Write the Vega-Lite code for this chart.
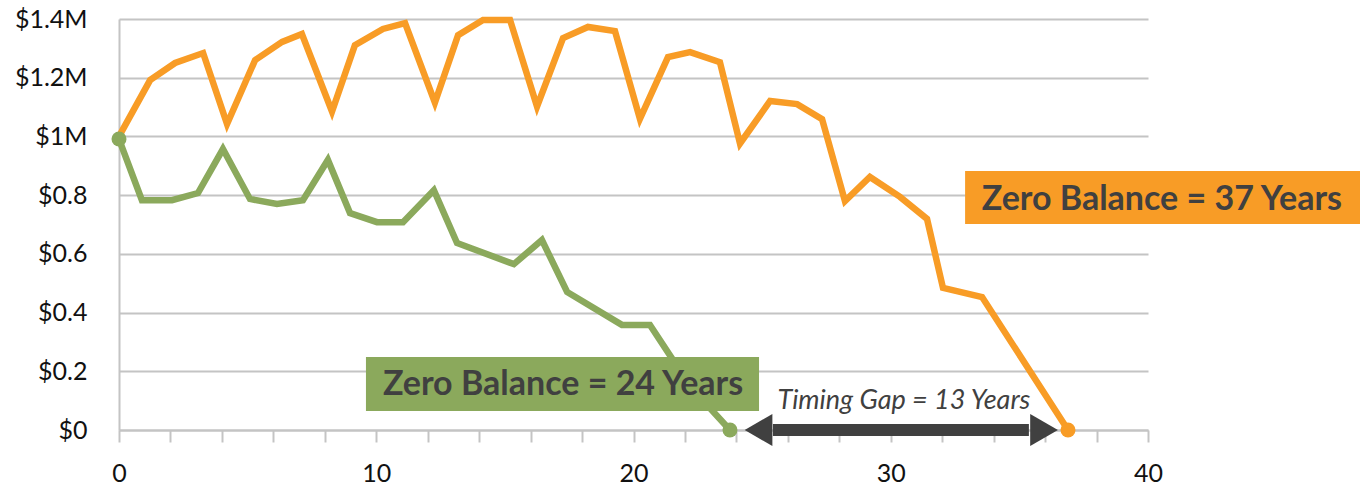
{
  "$schema": "https://vega.github.io/schema/vega-lite/v6.json",
  "autosize": {"type": "none"},
  "padding": {"left": 119, "top": 19, "right": 212, "bottom": 59},
  "width": 1029,
  "height": 411,
  "config": {"view": {"stroke": null}, "font": "Lato"},
  "datasets": {
    "balances": [
      {"year": 0, "balance": 1.0, "series": "37 years"},
      {"year": 1.21, "balance": 1.192, "series": "37 years"},
      {"year": 2.18, "balance": 1.25, "series": "37 years"},
      {"year": 3.27, "balance": 1.284, "series": "37 years"},
      {"year": 4.2, "balance": 1.042, "series": "37 years"},
      {"year": 5.29, "balance": 1.26, "series": "37 years"},
      {"year": 6.34, "balance": 1.322, "series": "37 years"},
      {"year": 7.11, "balance": 1.349, "series": "37 years"},
      {"year": 8.28, "balance": 1.085, "series": "37 years"},
      {"year": 9.17, "balance": 1.311, "series": "37 years"},
      {"year": 10.26, "balance": 1.366, "series": "37 years"},
      {"year": 11.12, "balance": 1.386, "series": "37 years"},
      {"year": 12.28, "balance": 1.115, "series": "37 years"},
      {"year": 13.18, "balance": 1.345, "series": "37 years"},
      {"year": 14.15, "balance": 1.397, "series": "37 years"},
      {"year": 15.2, "balance": 1.397, "series": "37 years"},
      {"year": 16.25, "balance": 1.102, "series": "37 years"},
      {"year": 17.26, "balance": 1.335, "series": "37 years"},
      {"year": 18.23, "balance": 1.373, "series": "37 years"},
      {"year": 19.28, "balance": 1.359, "series": "37 years"},
      {"year": 20.25, "balance": 1.06, "series": "37 years"},
      {"year": 21.34, "balance": 1.27, "series": "37 years"},
      {"year": 22.2, "balance": 1.287, "series": "37 years"},
      {"year": 23.36, "balance": 1.253, "series": "37 years"},
      {"year": 24.14, "balance": 0.976, "series": "37 years"},
      {"year": 25.31, "balance": 1.121, "series": "37 years"},
      {"year": 26.36, "balance": 1.11, "series": "37 years"},
      {"year": 27.33, "balance": 1.059, "series": "37 years"},
      {"year": 28.22, "balance": 0.78, "series": "37 years"},
      {"year": 29.19, "balance": 0.862, "series": "37 years"},
      {"year": 30.36, "balance": 0.794, "series": "37 years"},
      {"year": 31.41, "balance": 0.719, "series": "37 years"},
      {"year": 32.03, "balance": 0.484, "series": "37 years"},
      {"year": 33.55, "balance": 0.453, "series": "37 years"},
      {"year": 36.89, "balance": 0, "series": "37 years"},
      {"year": 0, "balance": 0.991, "series": "24 years"},
      {"year": 0.89, "balance": 0.783, "series": "24 years"},
      {"year": 2.06, "balance": 0.783, "series": "24 years"},
      {"year": 3.07, "balance": 0.807, "series": "24 years"},
      {"year": 4.04, "balance": 0.957, "series": "24 years"},
      {"year": 5.09, "balance": 0.787, "series": "24 years"},
      {"year": 6.14, "balance": 0.77, "series": "24 years"},
      {"year": 7.15, "balance": 0.783, "series": "24 years"},
      {"year": 8.12, "balance": 0.92, "series": "24 years"},
      {"year": 8.98, "balance": 0.739, "series": "24 years"},
      {"year": 10.03, "balance": 0.708, "series": "24 years"},
      {"year": 11.04, "balance": 0.708, "series": "24 years"},
      {"year": 12.24, "balance": 0.817, "series": "24 years"},
      {"year": 13.14, "balance": 0.637, "series": "24 years"},
      {"year": 15.35, "balance": 0.565, "series": "24 years"},
      {"year": 16.44, "balance": 0.647, "series": "24 years"},
      {"year": 17.42, "balance": 0.47, "series": "24 years"},
      {"year": 19.55, "balance": 0.358, "series": "24 years"},
      {"year": 20.64, "balance": 0.358, "series": "24 years"},
      {"year": 22.23, "balance": 0.146, "series": "24 years"},
      {"year": 23.75, "balance": 0, "series": "24 years"}
    ],
    "ends": [
      {"year": 0, "balance": 0.991, "series": "24 years"},
      {"year": 23.75, "balance": 0, "series": "24 years"},
      {"year": 36.89, "balance": 0, "series": "37 years"}
    ],
    "boxes": [
      {"label": "Zero Balance = 37 Years", "x": 32.89, "x2": 48.3, "y": 0.882, "y2": 0.702, "tx": 40.54, "ty": 0.783, "series": "37 years"},
      {"label": "Zero Balance = 24 Years", "x": 9.6, "x2": 24.88, "y": 0.2486, "y2": 0.0647, "tx": 17.26, "ty": 0.153, "series": "24 years"}
    ],
    "gap": [{"from": 25.42, "to": 35.37, "level": 0, "label": "Timing Gap = 13 Years", "tx": 30.51, "ty": 0.1}],
    "heads": [
      {"year": 24.86, "level": 0, "dir": "triangle-left"},
      {"year": 35.96, "level": 0, "dir": "triangle-right"}
    ]
  },
  "layer": [
    {
      "data": {"name": "balances"},
      "mark": {"type": "line", "strokeWidth": 6.5},
      "encoding": {
        "x": {
          "field": "year", "type": "quantitative",
          "scale": {"domain": [0, 40], "nice": false, "zero": false},
          "axis": {
            "title": null,
            "values": [0, 2, 4, 6, 8, 10, 12, 14, 16, 18, 20, 22, 24, 26, 28, 30, 32, 34, 36, 38, 40],
            "labelExpr": "datum.value % 10 == 0 ? datum.label : ''",
            "grid": false,
            "ticks": true, "tickSize": 12, "tickWidth": 2, "tickColor": "#c4c4c4",
            "domainColor": "#c4c4c4", "domainWidth": 2,
            "labelFontSize": 25, "labelColor": "#111111", "labelPadding": 19,
            "labelFlush": false, "labelOverlap": false
          }
        },
        "y": {
          "field": "balance", "type": "quantitative",
          "scale": {"domain": [0, 1.4], "nice": false},
          "axis": {
            "title": null,
            "values": [0, 0.2, 0.4, 0.6, 0.8, 1, 1.2, 1.4],
            "labelExpr": "'$' + format(datum.value, '~g') + (datum.value >= 1 ? 'M' : '')",
            "grid": true, "gridColor": "#c4c4c4", "gridWidth": 2,
            "ticks": false,
            "domainColor": "#c4c4c4", "domainWidth": 2,
            "labelFontSize": 25, "labelColor": "#111111", "labelPadding": 32,
            "labelFlush": false, "labelOverlap": false
          }
        },
        "color": {
          "field": "series", "type": "nominal",
          "scale": {"domain": ["37 years", "24 years"], "range": ["#F89C26", "#8BA95C"]},
          "legend": null
        }
      }
    },
    {
      "data": {"name": "ends"},
      "mark": {"type": "point", "shape": "circle", "filled": true, "opacity": 1, "size": 225},
      "encoding": {
        "x": {"field": "year", "type": "quantitative"},
        "y": {"field": "balance", "type": "quantitative"},
        "color": {"field": "series", "type": "nominal", "legend": null}
      }
    },
    {
      "data": {"name": "boxes"},
      "mark": {"type": "rect", "opacity": 1},
      "encoding": {
        "x": {"field": "x", "type": "quantitative"},
        "x2": {"field": "x2"},
        "y": {"field": "y", "type": "quantitative"},
        "y2": {"field": "y2"},
        "color": {"field": "series", "type": "nominal", "legend": null}
      }
    },
    {
      "data": {"name": "boxes"},
      "mark": {"type": "text", "fontWeight": "bold", "fontSize": 34, "color": "#404040", "align": "center", "baseline": "middle"},
      "encoding": {
        "x": {"field": "tx", "type": "quantitative"},
        "y": {"field": "ty", "type": "quantitative"},
        "text": {"field": "label"}
      }
    },
    {
      "data": {"name": "gap"},
      "mark": {"type": "rule", "strokeWidth": 12, "color": "#404040"},
      "encoding": {
        "x": {"field": "from", "type": "quantitative"},
        "x2": {"field": "to"},
        "y": {"field": "level", "type": "quantitative"}
      }
    },
    {
      "data": {"name": "heads"},
      "mark": {"type": "point", "filled": true, "opacity": 1, "size": 1024, "color": "#404040"},
      "encoding": {
        "x": {"field": "year", "type": "quantitative"},
        "y": {"field": "level", "type": "quantitative"},
        "shape": {"field": "dir", "type": "nominal", "scale": null}
      }
    },
    {
      "data": {"name": "gap"},
      "mark": {"type": "text", "fontStyle": "italic", "fontSize": 27, "color": "#404040", "align": "center", "baseline": "middle"},
      "encoding": {
        "x": {"field": "tx", "type": "quantitative"},
        "y": {"field": "ty", "type": "quantitative"},
        "text": {"field": "label"}
      }
    }
  ]
}
